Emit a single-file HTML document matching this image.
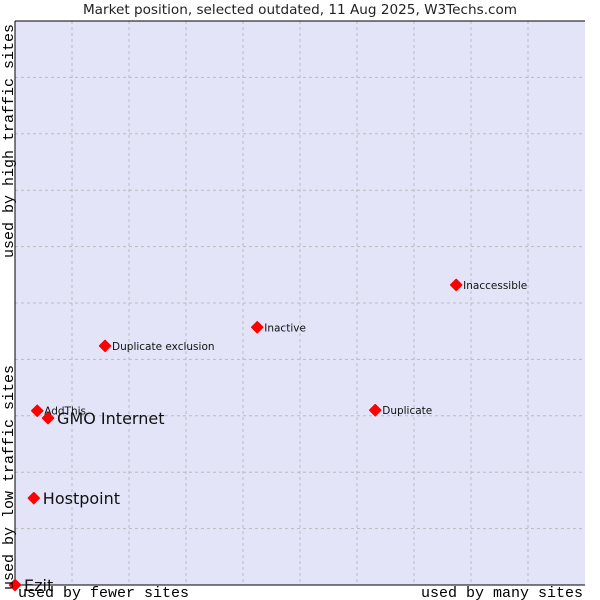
<!DOCTYPE html>
<html><head><meta charset="utf-8"><style>
body{margin:0;background:#fff}
svg{display:block;font-family:"DejaVu Sans","Liberation Sans",sans-serif}
</style></head><body>
<svg id="c" width="600" height="600">
<text x="300" y="14" text-anchor="middle" font-size="13.6" fill="#222">Market position, selected outdated, 11 Aug 2025, W3Techs.com</text>
<rect x="15" y="21" width="570" height="564" fill="#e3e4f8"/>
<g id="grid"></g>
<line x1="15" y1="21" x2="585" y2="21" stroke="#000"/>
<line x1="15" y1="21" x2="15" y2="585" stroke="#000"/>
<line x1="15" y1="585" x2="585" y2="585" stroke="#000"/>
<g id="pts"></g>
<text x="18" y="597" font-family="Liberation Mono,monospace" font-size="15" fill="#000">used by fewer sites</text>
<text x="583" y="597" text-anchor="end" font-family="Liberation Mono,monospace" font-size="15" fill="#000">used by many sites</text>
<text transform="translate(13,590) rotate(-90)" font-family="Liberation Mono,monospace" font-size="15" fill="#000">used by low traffic sites</text>
<text transform="translate(13,24) rotate(-90)" text-anchor="end" font-family="Liberation Mono,monospace" font-size="15" fill="#000">used by high traffic sites</text>
</svg>
<script>
const names=["Ezit","Hostpoint","GMO Internet","AddThis","Duplicate exclusion","Inactive","Duplicate","Inaccessible"];
const xs=[0,3.3,5.8,3.9,15.8,42.5,63.2,77.4];
const ys=[0,15.4,29.6,30.9,42.4,45.7,31.0,53.2];
const big=[1,1,1,0,0,0,0,0];
const X=v=>15+v*5.7, Y=v=>585-v*5.64;
const NS="http://www.w3.org/2000/svg";
const grid=document.getElementById('grid');
for(let i=1;i<10;i++){
 const l=document.createElementNS(NS,'line');
 l.setAttribute('x1',X(i*10));l.setAttribute('x2',X(i*10));l.setAttribute('y1',21);l.setAttribute('y2',585);
 l.setAttribute('stroke','#bbb');l.setAttribute('stroke-dasharray','3,3');
 
 
 grid.appendChild(l);
 const h=document.createElementNS(NS,'line');
 h.setAttribute('y1',Y(i*10));h.setAttribute('y2',Y(i*10));h.setAttribute('x1',15);h.setAttribute('x2',585);
 h.setAttribute('stroke','#bbb');h.setAttribute('stroke-dasharray','3,3');
 
 
 grid.appendChild(h);
}
const pts=document.getElementById('pts');
names.forEach((n,i)=>{
 const x=X(xs[i]),y=Y(ys[i]);
 const g=document.createElementNS(NS,'g');
 
 
 const p=document.createElementNS(NS,'path');
 p.setAttribute('d',`M${x} ${y-5.5}L${x+5.5} ${y}L${x} ${y+5.5}L${x-5.5} ${y}Z`);
 p.setAttribute('fill','#f00');p.setAttribute('stroke','#f00');p.setAttribute('stroke-linejoin','round');p.setAttribute('stroke-width','1.5');
 g.appendChild(p);
 const t=document.createElementNS(NS,'text');
 t.setAttribute('x',x+(big[i]?9:7));t.setAttribute('y',y+(big[i]?6:4));
 t.setAttribute('font-size',big[i]?16:10.5);t.setAttribute('fill','#111');
 t.textContent=n;
 g.appendChild(t);
 pts.appendChild(g);
});
</script>
</body></html>
